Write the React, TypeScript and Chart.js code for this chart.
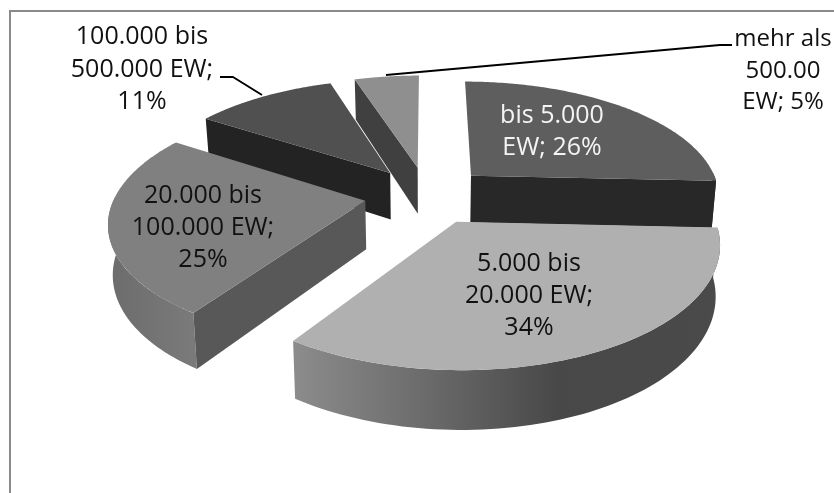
import React, { useEffect, useRef } from "react";
import { Chart, registerables } from "chart.js";

Chart.register(...registerables);

// Shares per municipality size class, clockwise from twelve o'clock.
const categoryLines = [
  ["bis 5.000", "EW; 26%"],
  ["5.000 bis", "20.000 EW;", "34%"],
  ["20.000 bis", "100.000 EW;", "25%"],
  ["100.000 bis", "500.000 EW;", "11%"],
  ["mehr als", "500.00", "EW; 5%"],
];
const shares = [26, 34, 25, 11, 5];

const topColors = ["#5e5e5e", "#b0b0b0", "#808080", "#505050", "#8f8f8f"];
const cutColors = ["#282828", "#4a4a4a", "#585858", "#232323", "#404040"];
const rimStops: [number, string][][] = [
  [[0, "#282828"], [1, "#282828"]],
  [[0, "#8c8c8c"], [0.3, "#6c6c6c"], [0.62, "#484848"], [1, "#4a4a4a"]],
  [[0, "#6c6c6c"], [1, "#7a7a7a"]],
  [[0, "#232323"], [1, "#232323"]],
  [[0, "#404040"], [1, "#404040"]],
];
const textColors = ["#f4f4f4", "#111111", "#111111", "#111111", "#111111"];
const labelAnchors = [
  { x: 552, y: [116, 148] },
  { x: 529, y: [264, 296, 328] },
  { x: 203, y: [196, 228, 260] },
  { x: 142, y: [37, 70, 102] },
  { x: 783, y: [39, 71, 102] },
];
const leaderLines = [
  [[220, 77], [233, 77], [262, 95]],
  [[732, 45], [720, 45], [386, 75]],
];

// Painter's order, back to front.
const paintOrder = [4, 3, 0, 2, 1];
const sliceExplode = [25, 25, 25, 25, 25];

// Perspective view of the tilted disc.
const view = { cx: 427, cy: 195, rx: 250, ry: 115, persp: 0.161, depth: 48, taper: 0.985 };

function project(u: number, v: number) {
  const w = 1 / (1 - view.persp * v);
  return {
    x: view.cx + view.rx * u * w,
    y: view.cy + view.ry * v * w,
    w,
  };
}

function lower(p: { x: number; y: number; w: number }) {
  return { x: view.cx + (p.x - view.cx) * view.taper, y: p.y + view.depth * p.w };
}

const pie3d = {
  id: "pie3d",
  beforeDatasetsDraw(chart: any) {
    const ctx: CanvasRenderingContext2D = chart.ctx;
    const arcs = chart.getDatasetMeta(0).data;

    // Frame of the chart area, open to the right and at the bottom.
    ctx.save();
    ctx.strokeStyle = "#8a8a8a";
    ctx.lineWidth = 2;
    ctx.beginPath();
    ctx.moveTo(10, 493);
    ctx.lineTo(10, 11);
    ctx.lineTo(834, 11);
    ctx.stroke();

    paintOrder.forEach((i) => {
      const arc = arcs[i];
      const a0 = arc.startAngle + Math.PI / 2;
      const a1 = arc.endAngle + Math.PI / 2;
      const e = arc.options.offset / 100;
      const mid = (a0 + a1) / 2;
      const ou = e * Math.sin(mid);
      const ov = -e * Math.cos(mid);
      const pt = (t: number) => project(ou + Math.sin(t), ov - Math.cos(t));
      const apex = project(ou, ov);

      // Outer wall, only where the rim faces the viewer.
      const lo = Math.max(a0, (88 * Math.PI) / 180);
      const hi = Math.min(a1, (272 * Math.PI) / 180);
      if (hi > lo) {
        const steps = 80;
        const ring: { x: number; y: number; w: number }[] = [];
        for (let s = 0; s <= steps; s++) ring.push(pt(lo + ((hi - lo) * s) / steps));
        const xs = ring.map((p) => p.x);
        const g = ctx.createLinearGradient(Math.min(...xs), 0, Math.max(...xs), 0);
        rimStops[i].forEach(([o, c]) => g.addColorStop(o, c));
        ctx.fillStyle = g;
        ctx.beginPath();
        ring.forEach((p, k) => (k ? ctx.lineTo(p.x, p.y) : ctx.moveTo(p.x, p.y)));
        [...ring].reverse().forEach((p) => {
          const b = lower(p);
          ctx.lineTo(b.x, b.y);
        });
        ctx.closePath();
        ctx.fill();
      }

      // Cut faces that look toward the viewer.
      const faces = [
        { t: a0, show: Math.sin(a0) < -1e-6 },
        { t: a1, show: Math.sin(a1) > 1e-6 },
      ];
      faces.forEach(({ t, show }) => {
        if (!show) return;
        const r = pt(t);
        const rb = lower(r);
        const ab = lower(apex);
        ctx.fillStyle = cutColors[i];
        ctx.beginPath();
        ctx.moveTo(apex.x, apex.y);
        ctx.lineTo(r.x, r.y);
        ctx.lineTo(rb.x, rb.y);
        ctx.lineTo(ab.x, ab.y);
        ctx.closePath();
        ctx.fill();
      });

      // Top face.
      ctx.fillStyle = topColors[i];
      ctx.beginPath();
      ctx.moveTo(apex.x, apex.y);
      const steps = 120;
      for (let s = 0; s <= steps; s++) {
        const p = pt(a0 + ((a1 - a0) * s) / steps);
        ctx.lineTo(p.x, p.y);
      }
      ctx.closePath();
      ctx.fill();
    });

    // Leader lines for the two labels outside the pie.
    ctx.strokeStyle = "#000000";
    ctx.lineWidth = 2;
    ctx.lineJoin = "round";
    leaderLines.forEach((line) => {
      ctx.beginPath();
      line.forEach(([x, y], k) => (k ? ctx.lineTo(x, y) : ctx.moveTo(x, y)));
      ctx.stroke();
    });

    // Category and share labels; the rightmost block runs slightly narrower.
    ctx.textAlign = "center";
    ctx.textBaseline = "middle";
    categoryLines.forEach((lines, i) => {
      ctx.font = i === 4 ? '24px "Open Sans"' : '25px "Open Sans"';
      ctx.fillStyle = textColors[i];
      lines.forEach((line, k) => ctx.fillText(line, labelAnchors[i].x, labelAnchors[i].y[k]));
    });
    ctx.restore();
    return false;
  },
};

export default function App() {
  const ref = useRef<HTMLCanvasElement>(null);
  useEffect(() => {
    const chart = new Chart(ref.current!, {
      type: "pie",
      data: {
        labels: categoryLines.map((l) => l.join(" ")),
        datasets: [{ data: shares, backgroundColor: topColors, offset: sliceExplode, borderWidth: 0 }],
      },
      options: {
        animation: false,
        responsive: false,
        plugins: { legend: { display: false }, tooltip: { enabled: false } },
      },
      plugins: [pie3d],
    } as any);
    return () => chart.destroy();
  }, []);
  return (
    <div style={{ position: "fixed", left: 0, top: 0, width: 834, height: 493, background: "#fff" }}>
      <canvas ref={ref} width={834} height={493} style={{ display: "block" }} />
    </div>
  );
}
